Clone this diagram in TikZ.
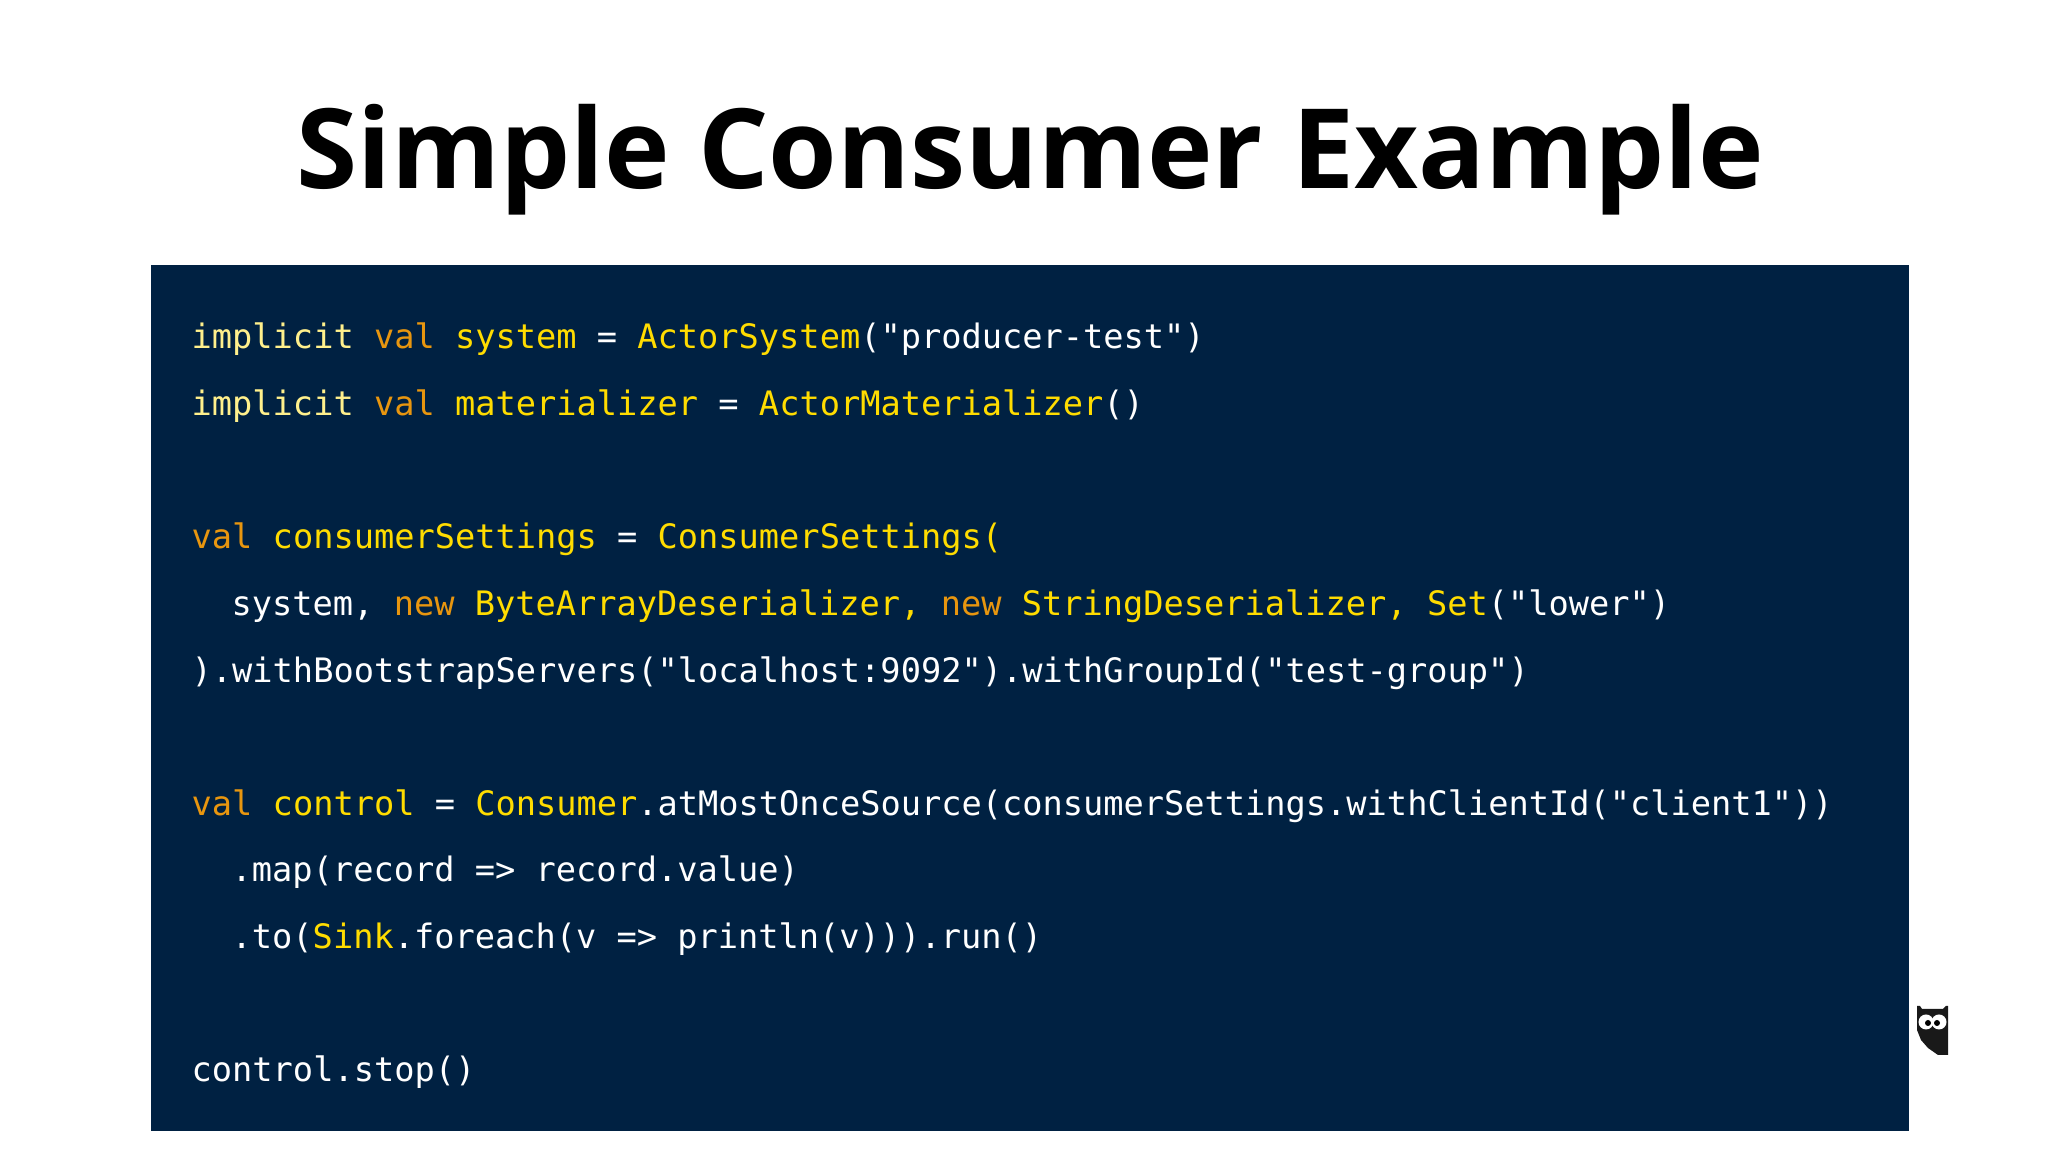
\documentclass[tikz,border=0pt]{standalone}
\usepackage{fontspec}
\setmainfont{Open Sans}
\newfontfamily\codefont{DejaVu Sans Mono}
\definecolor{panelblue}{HTML}{002142}
\definecolor{kworange}{HTML}{E8960F}
\definecolor{nameyellow}{HTML}{FFDC00}
\definecolor{softyellow}{HTML}{FFF08C}
\newcommand{\kw}[1]{\textcolor{kworange}{#1}}
\newcommand{\nm}[1]{\textcolor{nameyellow}{#1}}
\newcommand{\im}[1]{\textcolor{softyellow}{#1}}
\tikzset{
	codeline/.style={anchor=base west,inner sep=0pt,text=white,font=\codefont\fontsize{9.575pt}{11pt}\selectfont}
}
\begin{document}
\begin{tikzpicture}
	\useasboundingbox (0,0) rectangle (20.48,11.52);
	% Heading
	\node[font=\bfseries\fontsize{31.55pt}{36pt}\selectfont,anchor=base,inner sep=0pt] (Heading) at (10.30,9.63) {Simple Consumer Example};
	% Code panel
	\fill[panelblue] (1.51,0.21) rectangle (19.09,8.87);
	\node[codeline] (Line1) at (1.91,8.03) {\im{implicit} \kw{val} \nm{system} = \nm{ActorSystem}("producer-test")};
	\node[codeline] (Line2) at (1.91,7.36) {\im{implicit} \kw{val} \nm{materializer} = \nm{ActorMaterializer}()};
	\node[codeline] (Line3) at (1.91,6.03) {\kw{val} \nm{consumerSettings} = \nm{ConsumerSettings(}};
	\node[codeline] (Line4) at (2.31,5.36) {system, \kw{new} \nm{ByteArrayDeserializer,} \kw{new} \nm{StringDeserializer,} \nm{Set}("lower")};
	\node[codeline] (Line5) at (1.91,4.695) {).withBootstrapServers("localhost:9092").withGroupId("test-group")};
	\node[codeline] (Line6) at (1.91,3.365) {\kw{val} \nm{control} = \nm{Consumer}.atMostOnceSource(consumerSettings.withClientId("client1"))};
	\node[codeline] (Line7) at (2.31,2.70) {.map(record => record.value)};
	\node[codeline] (Line8) at (2.31,2.03) {.to(\nm{Sink}.foreach(v => println(v))).run()};
	\node[codeline] (Line9) at (1.91,0.70) {control.stop()};
	% Owl mark
	\fill[black!90] (19.17,1.46) -- (19.20,1.46) -- (19.22,1.43) -- (19.43,1.43) -- (19.46,1.46) -- (19.48,1.46) -- (19.48,0.97) -- (19.38,0.97) -- (19.28,1.04) -- (19.21,1.12) -- (19.17,1.22) -- cycle;
	\fill[white] (19.26,1.30) circle (0.075);
	\fill[white] (19.39,1.30) circle (0.075);
	\fill[black] (19.28,1.29) circle (0.03);
	\fill[black] (19.37,1.29) circle (0.03);
\end{tikzpicture}
\end{document}
